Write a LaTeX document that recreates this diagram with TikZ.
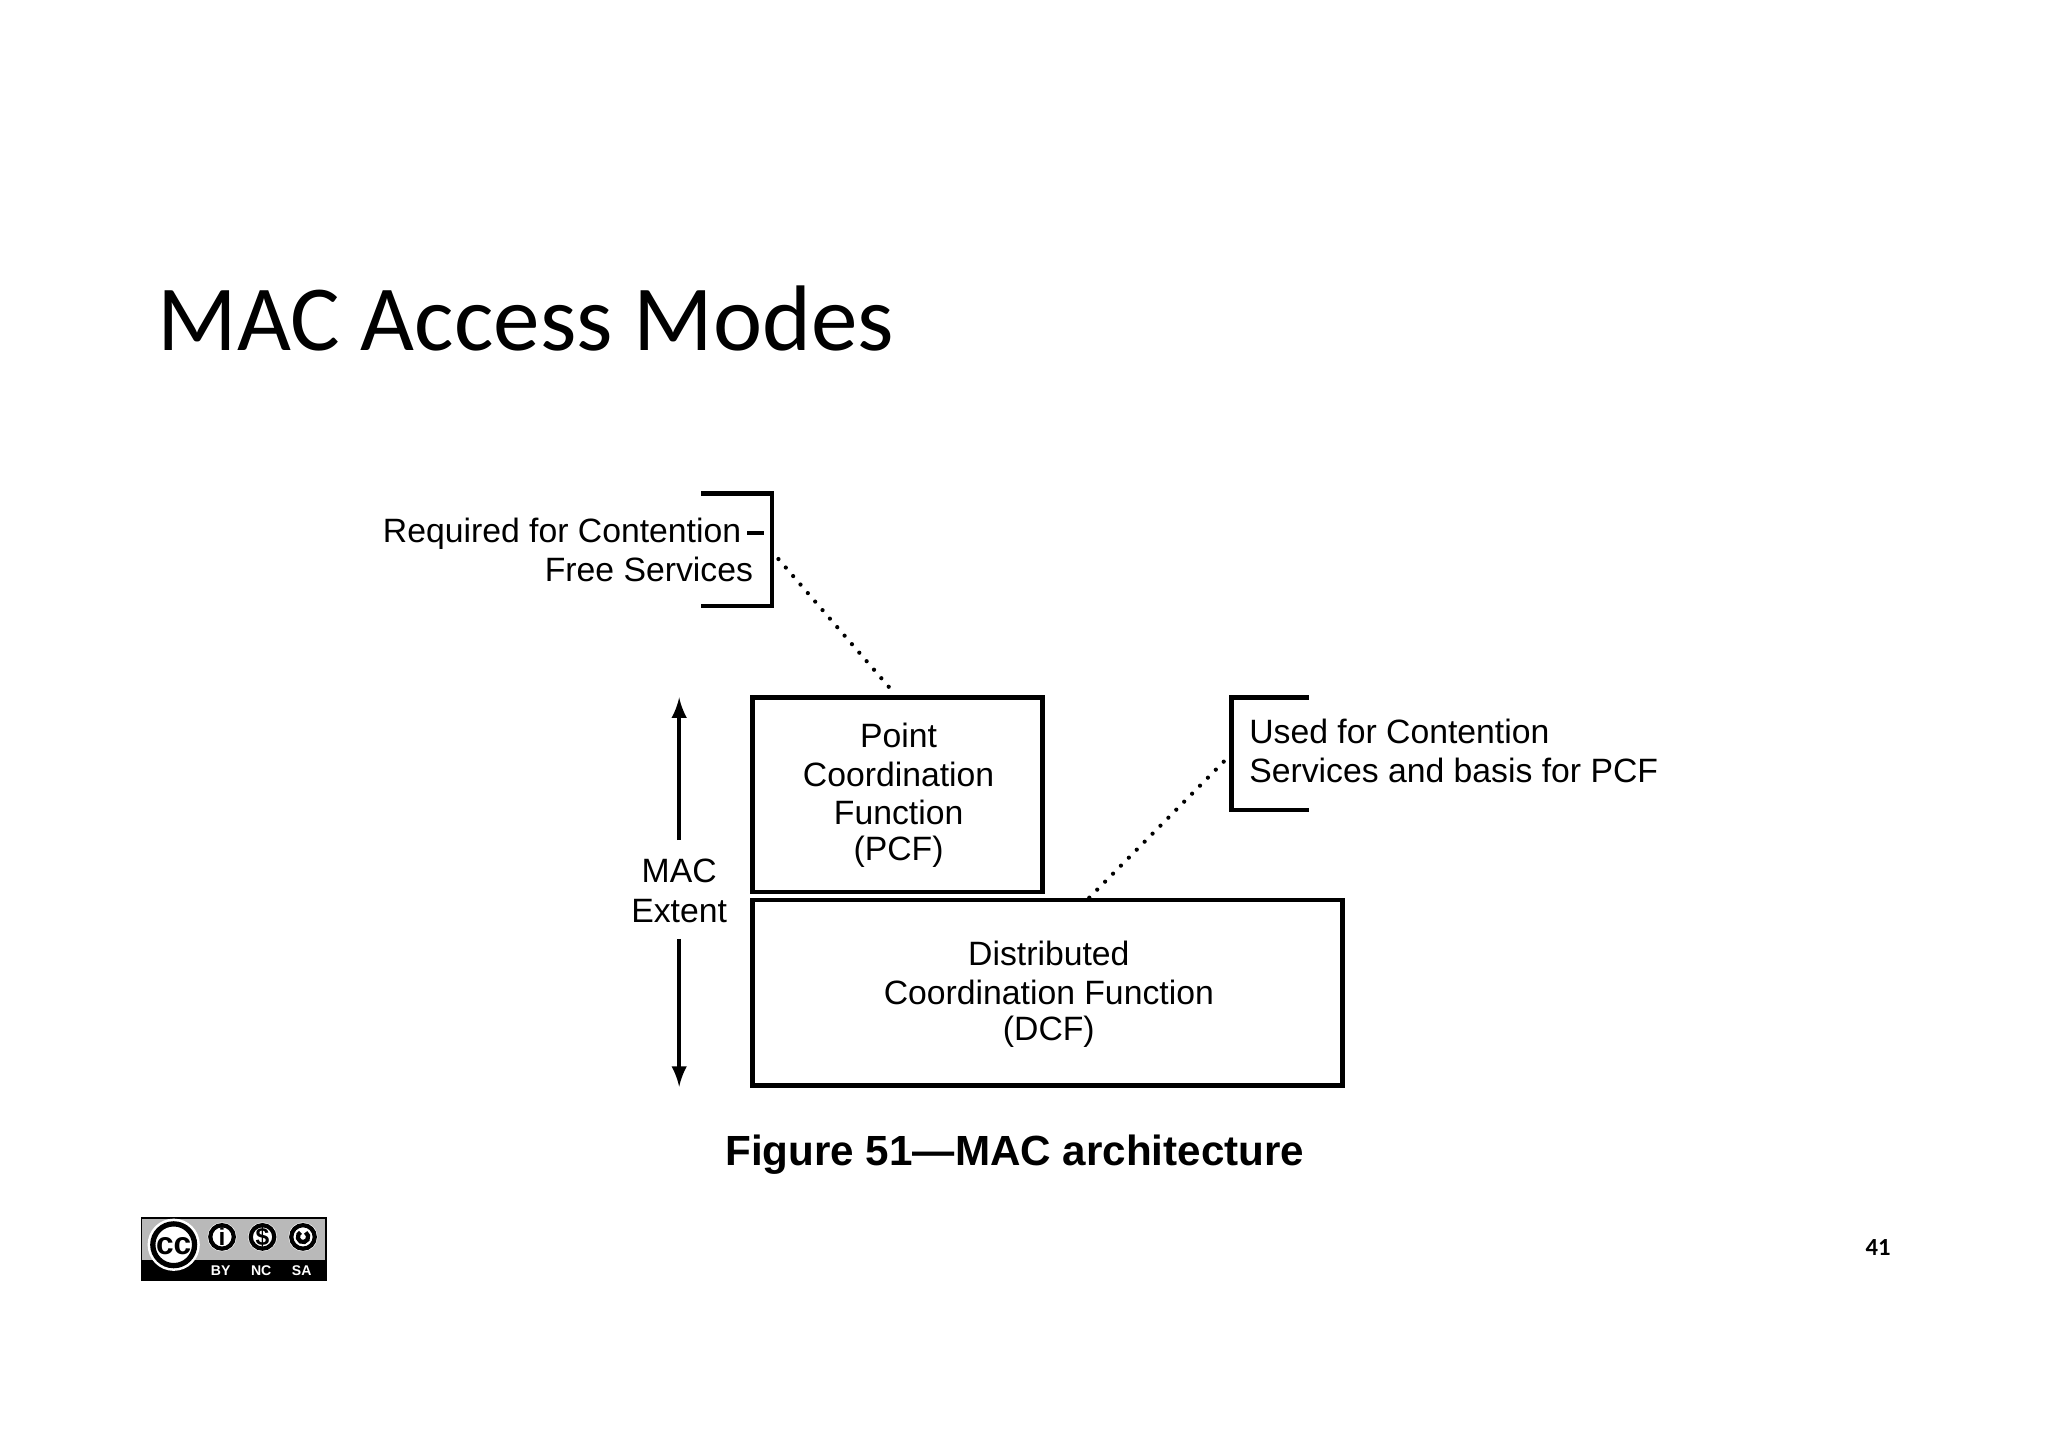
\documentclass[tikz,border=0pt]{standalone}
\usepackage{fontspec}
\setmainfont{Liberation Sans}
\newfontfamily\titlefont{Carlito}
\begin{document}
\begin{tikzpicture}[x=0.01306cm,y=-0.01306cm,
  lbl/.style={font=\fontsize{9.6}{11.2}\selectfont,inner sep=0pt,align=center},
  box/.style={draw,line width=1.3pt,inner sep=0pt},
  dots/.style={line width=1.2pt,dash pattern=on 0pt off 3.2pt,line cap=round}]
\useasboundingbox (0,0) rectangle (1568,1109);
\fill[white] (0,0) rectangle (1568,1109);
\node[anchor=base west,inner sep=0pt,font=\titlefont\fontsize{26.5}{30}\selectfont] (title) at (120,268) {MAC Access Modes};
% bracket 1
\draw[line width=1.3pt] (537,378) -- (591,378) -- (591,464) -- (537,464);
\draw[line width=1.3pt] (572,408) -- (585,408);
\node[lbl,anchor=base east] (req1) at (568,415) {Required for Contention};
\node[lbl,anchor=base east] (req2) at (577,445) {Free Services};
\coordinate (b1) at (596,428);
% boxes
\node[box,minimum width=222*0.01306cm,minimum height=149*0.01306cm] (pcf) at (687,608.5) {};
\node[lbl] at (688,563) {Point};
\node[lbl] at (688,593) {Coordination};
\node[lbl] at (688,622) {Function};
\node[lbl] at (688,652) {(PCF)};
\node[box,minimum width=452*0.01306cm,minimum height=142*0.01306cm] (dcf) at (802,760) {};
\node[lbl] at (803,730) {Distributed};
\node[lbl] at (803,760) {Coordination Function};
\node[lbl] at (803,790) {(DCF)};
% bracket 2
\draw[line width=1.3pt] (1002,534) -- (943,534) -- (943,620) -- (1002,620);
\coordinate (b2) at (942,578);
\node[lbl,anchor=base west,align=left] (used1) at (956,569) {Used for Contention};
\node[lbl,anchor=base west,align=left] (used2) at (956,599) {Services and basis for PCF};
\draw[dots] (b1) -- ([xshift=-1*0.01306cm]pcf.north);
\draw[dots] ([xshift=32*0.01306cm]dcf.north) -- (b2);
% MAC extent
\node[lbl] (mac) at (520,682) {MAC\\Extent};
\coordinate (atop) at (520,534);
\coordinate (abot) at (520,832);
\draw[line width=1pt,-latex] (mac.north) ++(0,-14) -- (atop);
\draw[line width=1pt,-latex] (mac.south) ++(0,12) -- (abot);
\node[inner sep=0pt,font=\bfseries\fontsize{12}{13}\selectfont] (cap) at (777,884) {Figure 51---MAC architecture};
% CC logo
\fill[black] (108,932) rectangle (250,981);
\fill[gray!55] (109,933) rectangle (249,965);
\fill[white] (133,953) circle (20);
\draw[black,line width=1.5pt] (133,953) circle (16);
\node[font=\bfseries\fontsize{9}{9}\selectfont] (ccx) at (133,954) {cc};
\foreach \x in {170,201,232}{
  \fill[white] (\x,947) circle (11);
  \draw[black,line width=1.2pt] (\x,947) circle (9);}
\node[font=\bfseries\fontsize{7}{7}\selectfont] (ib) at (170,947) {i};
\node[font=\bfseries\fontsize{7}{7}\selectfont] (db) at (201,947) {\$};
\draw[black,line width=1.2pt] (232,947) ++(-60:4) arc (-60:240:4);
\node[white,font=\bfseries\fontsize{4}{4}\selectfont] (by) at (169,973) {BY};
\node[white,font=\bfseries\fontsize{4}{4}\selectfont] (nc) at (200,973) {NC};
\node[white,font=\bfseries\fontsize{4}{4}\selectfont] (sa) at (231,973) {SA};
\node[font=\titlefont\bfseries\fontsize{7}{8}\selectfont] (pg) at (1438,955) {41};
\end{tikzpicture}
\end{document}
